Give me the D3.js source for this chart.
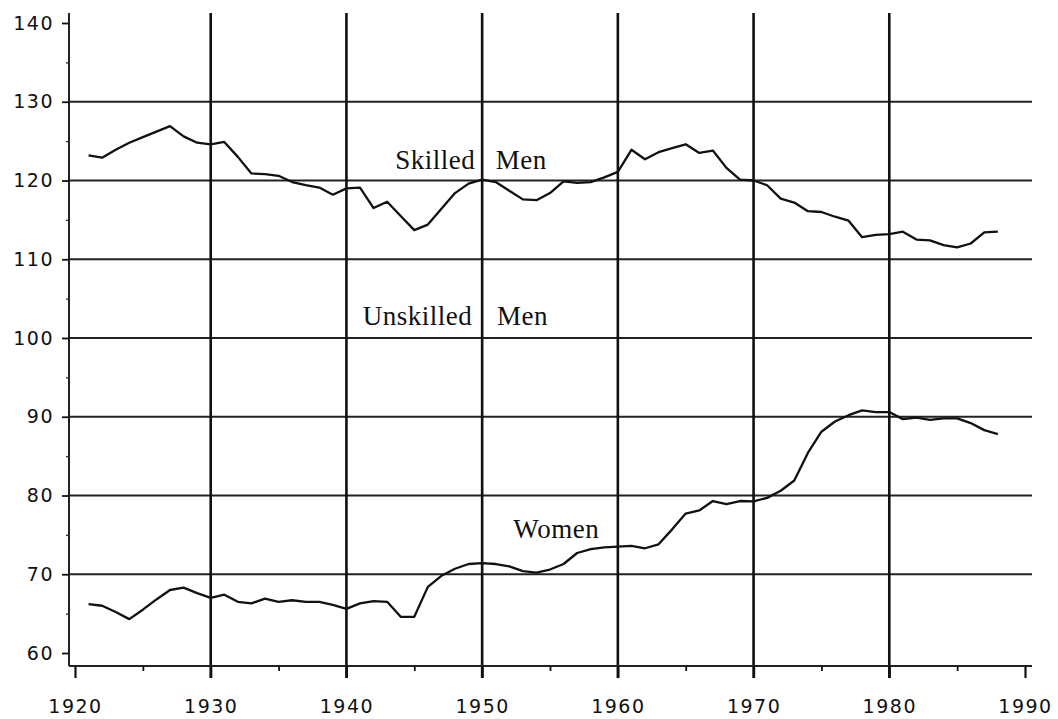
<!DOCTYPE html>

<head>
    <meta charset="utf-8">
    <title>Skilled Men and Women relative to Unskilled Men</title>
    <script src="https://d3js.org/d3.v7.min.js"></script>
    <style>
        body { margin: 0; background: #fff; }
        .tick-label { font-family: "DejaVu Sans", sans-serif; font-size: 19px; letter-spacing: 1.5px; fill: #111; }
        .series-label { font-family: "Liberation Serif", serif; font-size: 27px; letter-spacing: 0.5px; fill: #111; }
    </style>
</head>

<body>
    <div id="my_dataviz"></div>

    <script>
        // years 1921 - 1988, index relative to unskilled men = 100
        var years = d3.range(1921, 1989);

        var skilledMen = [
            123.2, 122.9, 123.9, 124.8, 125.5, 126.2, 126.9, 125.6, 124.8, 124.6,
            124.9, 123.0, 120.9, 120.8, 120.6, 119.8, 119.4, 119.1, 118.2, 119.0,
            119.1, 116.5, 117.3, 115.5, 113.7, 114.4, 116.4, 118.4, 119.6, 120.1,
            119.8, 118.7, 117.6, 117.5, 118.4, 119.9, 119.7, 119.8, 120.4, 121.1,
            123.9, 122.7, 123.6, 124.1, 124.6, 123.5, 123.8, 121.6, 120.1, 120.0,
            119.4, 117.7, 117.2, 116.1, 116.0, 115.4, 114.9, 112.8, 113.1, 113.2,
            113.5, 112.5, 112.4, 111.8, 111.5, 112.0, 113.4, 113.5
        ];

        var women = [
            66.2, 66.0, 65.2, 64.3, 65.5, 66.8, 68.0, 68.3, 67.6, 67.0,
            67.4, 66.5, 66.3, 66.9, 66.5, 66.7, 66.5, 66.5, 66.1, 65.6,
            66.3, 66.6, 66.5, 64.6, 64.6, 68.4, 69.8, 70.7, 71.3, 71.4,
            71.3, 71.0, 70.4, 70.2, 70.6, 71.3, 72.7, 73.2, 73.4, 73.5,
            73.6, 73.3, 73.8, 75.7, 77.7, 78.1, 79.3, 78.9, 79.3, 79.25,
            79.7, 80.6, 81.9, 85.4, 88.1, 89.4, 90.2, 90.8, 90.6, 90.6,
            89.7, 89.9, 89.6, 89.8, 89.8, 89.2, 88.3, 87.8
        ];

        var xTicks = [1920, 1930, 1940, 1950, 1960, 1970, 1980, 1990];
        var xMinorTicks = [1925, 1935, 1945, 1955, 1965, 1975, 1985];
        var xGridYears = [1930, 1940, 1950, 1960, 1970, 1980];
        var yTicks = [60, 70, 80, 90, 100, 110, 120, 130, 140];
        var yMinorTicks = [65, 75, 85, 95, 105, 115, 125, 135];
        var yGridValues = [70, 80, 90, 100, 110, 120, 130];

        // text starts at (year, value) baseline
        var labels = [
            { text: "Skilled", year: 1943.6, value: 121.45 },
            { text: "Men", year: 1951.0, value: 121.45 },
            { text: "Unskilled", year: 1941.2, value: 101.6 },
            { text: "Men", year: 1951.1, value: 101.6 },
            { text: "Women", year: 1952.3, value: 74.6 }
        ];

        var W = 1058, H = 719;
        var axisX = 69, axisBottom = 666, axisTop = 13, gridRight = 1032;

        var svg = d3.select("#my_dataviz")
            .append("svg")
            .attr("width", W)
            .attr("height", H);

        var x = d3.scaleLinear().domain([1920, 1990]).range([75, 1025]);
        var y = d3.scaleLinear().domain([60, 140]).range([653, 23]);

        // horizontal grid
        svg.append("g")
            .selectAll("line")
            .data(yGridValues)
            .enter().append("line")
            .attr("x1", axisX).attr("x2", gridRight)
            .attr("y1", function (d) { return y(d); })
            .attr("y2", function (d) { return y(d); })
            .attr("stroke", "#222")
            .attr("stroke-width", 1.8);

        // vertical grid (runs past the axis as a tick)
        svg.append("g")
            .selectAll("line")
            .data(xGridYears)
            .enter().append("line")
            .attr("x1", function (d) { return x(d); })
            .attr("x2", function (d) { return x(d); })
            .attr("y1", axisTop).attr("y2", 678)
            .attr("stroke", "#111")
            .attr("stroke-width", 2.6);

        // x axis
        svg.append("line")
            .attr("x1", axisX).attr("x2", gridRight)
            .attr("y1", axisBottom).attr("y2", axisBottom)
            .attr("stroke", "#222").attr("stroke-width", 1.8);

        var xAxis = svg.append("g")
            .attr("transform", "translate(0," + axisBottom + ")")
            .call(d3.axisBottom(x).tickValues(xTicks).tickSize(12).tickFormat(d3.format("d")));
        xAxis.select(".domain").remove();
        xAxis.selectAll(".tick line").attr("stroke", "#111").attr("stroke-width", 2.2);
        xAxis.selectAll(".tick text")
            .attr("class", "tick-label")
            .attr("y", 34)
            .attr("dy", "0.71em");
        xAxis.attr("font-size", null).attr("font-family", null);

        var xMinor = svg.append("g")
            .attr("transform", "translate(0," + axisBottom + ")")
            .call(d3.axisBottom(x).tickValues(xMinorTicks).tickSize(5).tickFormat(""));
        xMinor.select(".domain").remove();
        xMinor.selectAll(".tick line").attr("stroke", "#111").attr("stroke-width", 1.8);

        // y axis
        svg.append("line")
            .attr("x1", axisX).attr("x2", axisX)
            .attr("y1", axisTop).attr("y2", axisBottom)
            .attr("stroke", "#222").attr("stroke-width", 2);

        var yAxis = svg.append("g")
            .attr("transform", "translate(" + axisX + ",0)")
            .call(d3.axisLeft(y).tickValues(yTicks).tickSize(7).tickPadding(8));
        yAxis.select(".domain").remove();
        yAxis.selectAll(".tick line").attr("stroke", "#111").attr("stroke-width", 1.8);
        yAxis.selectAll(".tick text").attr("class", "tick-label");
        yAxis.attr("font-size", null).attr("font-family", null);

        var yMinor = svg.append("g")
            .attr("transform", "translate(" + axisX + ",0)")
            .call(d3.axisLeft(y).tickValues(yMinorTicks).tickSize(3).tickFormat(""));
        yMinor.select(".domain").remove();
        yMinor.selectAll(".tick line").attr("stroke", "#333").attr("stroke-width", 1.4);

        // series
        var line = d3.line()
            .x(function (d) { return x(d[0]); })
            .y(function (d) { return y(d[1]); });

        [skilledMen, women].forEach(function (series) {
            svg.append("path")
                .datum(d3.zip(years, series))
                .attr("fill", "none")
                .attr("stroke", "#111")
                .attr("stroke-width", 2.3)
                .attr("stroke-linejoin", "round")
                .attr("d", line);
        });

        // labels
        svg.append("g")
            .selectAll("text")
            .data(labels)
            .enter().append("text")
            .attr("class", "series-label")
            .attr("x", function (d) { return x(d.year); })
            .attr("y", function (d) { return y(d.value); })
            .text(function (d) { return d.text; });
    </script>
</body>

</html>
